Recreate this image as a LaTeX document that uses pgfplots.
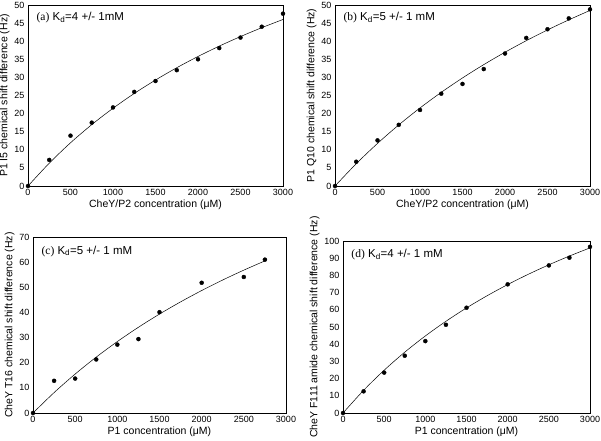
\documentclass[border=0pt]{standalone}
\usepackage{fontspec}
\setmainfont{Liberation Sans}
\newfontfamily\seriffont{Liberation Serif}
\usepackage{pgfplots}
\pgfplotsset{compat=1.18}
\pgfplotsset{
  panel/.style={
    scale only axis, anchor=south west,
    xmin=0, xmax=3000, xtick={0,500,...,3000},
    major tick length=0pt,
    tick label style={font=\fontsize{9}{11}\selectfont},
    label style={font=\fontsize{10.5}{12}\selectfont},
    /pgf/number format/assume math mode=true,
    /pgf/number format/1000 sep={},
    scaled ticks=false,
    axis line style={line width=0.6pt},
    clip=false,
    every axis plot/.append style={black},
  },
  fit/.style={no marks, line width=0.5pt, smooth},
  pts/.style={only marks, mark=*, mark size=2pt},
}
\begin{document}
\begin{tikzpicture}
\useasboundingbox (0pt,0pt) rectangle (601pt,440pt);
% (a)
\begin{axis}[panel, at={(28pt,254pt)}, width=255pt, height=181pt,
  ymin=0, ymax=50, ytick={0,5,...,50},
  xlabel={CheY/P2 concentration (μM)},
  ylabel={P1 I5 chemical shift difference (Hz)},
  xlabel style={yshift=3pt}, ylabel style={yshift=-2pt}]
\addplot[fit] coordinates {(0,0)(250,6.31)(500,11.93)(750,16.95)(1000,21.47)(1250,25.56)(1500,29.27)(1750,32.67)(2000,35.78)(2250,38.64)(2500,41.28)(2750,43.73)(3000,46.0)};
\addplot[pts] coordinates {(0,0)(250,7.2)(500,13.9)(750,17.5)(1000,21.7)(1250,26)(1500,29)(1750,32)(2000,35)(2250,38.1)(2500,41)(2750,44)(3000,47.6)};
\node[anchor=west, font=\fontsize{11.5}{13}\selectfont] at (rel axis cs:0.02,0.93) {{\seriffont (a)}\ K\textsubscript{d}=4 +/- 1mM};
\end{axis}
% (b)
\begin{axis}[panel, at={(335pt,254pt)}, width=255pt, height=181pt,
  ymin=0, ymax=50, ytick={0,5,...,50},
  xlabel={CheY/P2 concentration (μM)},
  ylabel={P1 Q10 chemical shift difference (Hz)},
  xlabel style={yshift=3pt}, ylabel style={yshift=-2pt}]
\addplot[fit] coordinates {(0,0)(250,6.16)(500,11.76)(750,16.87)(1000,21.56)(1250,25.87)(1500,29.85)(1750,33.53)(2000,36.95)(2250,40.14)(2500,43.11)(2750,45.89)(3000,48.5)};
\addplot[pts] coordinates {(0,0)(250,6.7)(500,12.6)(750,16.9)(1000,21)(1250,25.5)(1500,28.2)(1750,32.3)(2000,36.6)(2250,40.9)(2500,43.3)(2750,46.3)(3000,48.8)};
\node[anchor=west, font=\fontsize{11.5}{13}\selectfont] at (rel axis cs:0.02,0.93) {{\seriffont (b)}\ K\textsubscript{d}=5 +/- 1 mM};
\end{axis}
% (c)
\begin{axis}[panel, at={(33pt,27pt)}, width=253pt, height=176pt,
  ymin=0, ymax=70, ytick={0,10,...,70},
  xlabel={P1 concentration (μM)},
  ylabel={CheY T16 chemical shift difference (Hz)},
  xlabel style={yshift=3pt}, ylabel style={yshift=-2pt}]
\addplot[fit] coordinates {(0,0)(250,8.12)(500,15.5)(750,22.24)(1000,28.42)(1250,34.1)(1500,39.35)(1750,44.2)(2000,48.71)(2250,52.91)(2500,56.83)(2750,60.5)};
\addplot[pts] coordinates {(0,0)(250,12.8)(500,13.7)(750,21.3)(1000,27.2)(1250,29.4)(1500,40.1)(2000,51.8)(2500,54.1)(2750,61)};
\node[anchor=west, font=\fontsize{11.5}{13}\selectfont] at (rel axis cs:0.02,0.92) {{\seriffont (c)}\ K\textsubscript{d}=5 +/- 1 mM};
\end{axis}
% (d)
\begin{axis}[panel, at={(343pt,27pt)}, width=247pt, height=172pt,
  ymin=0, ymax=100, ytick={0,10,...,100},
  xlabel={P1 concentration (μM)},
  ylabel={CheY F111 amide chemical shift difference (Hz)},
  xlabel style={yshift=3pt}, ylabel style={yshift=-2pt}]
\addplot[fit] coordinates {(0,0)(250,13.18)(500,24.89)(750,35.37)(1000,44.8)(1250,53.33)(1500,61.09)(1750,68.17)(2000,74.67)(2250,80.64)(2500,86.15)(2750,91.26)(3000,96.0)};
\addplot[pts] coordinates {(0,0)(250,12.6)(500,23.5)(750,33.3)(1000,41.8)(1250,51.3)(1500,61.2)(2000,74.8)(2500,85.8)(2750,90.3)(3000,96.6)};
\node[anchor=west, font=\fontsize{11.5}{13}\selectfont] at (rel axis cs:0.02,0.92) {{\seriffont (d)}\ K\textsubscript{d}=4 +/- 1 mM};
\end{axis}
\end{tikzpicture}
\end{document}
